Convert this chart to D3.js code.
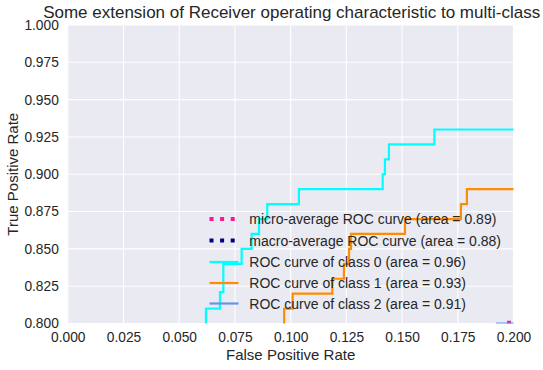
<!DOCTYPE html>
<html>
<head>
<meta charset="utf-8">
<script src="https://cdn.jsdelivr.net/npm/d3@7"></script>
<style>
  body { margin: 0; background: #fff; }
  svg { display: block; }
  text { font-family: "Liberation Sans", Arial, sans-serif; fill: #262626; }
</style>
</head>
<body>
<svg id="chart" width="543" height="370"></svg>
<script>
// ---- data ----
const xTicks = [0.000, 0.025, 0.050, 0.075, 0.100, 0.125, 0.150, 0.175, 0.200];
const yTicks = [0.800, 0.825, 0.850, 0.875, 0.900, 0.925, 0.950, 0.975, 1.000];

// class 0 (corner points of the step curve)
const fpr0 = [0.0620, 0.0620, 0.0683, 0.0683, 0.0698, 0.0698, 0.0780, 0.0780, 0.0825, 0.0825, 0.0858, 0.0858, 0.0895, 0.0895, 0.1037, 0.1037, 0.1413, 0.1413, 0.1423, 0.1423, 0.1441, 0.1441, 0.1645, 0.1645, 0.2100];
const tpr0 = [0.7900, 0.8100, 0.8100, 0.8210, 0.8210, 0.8400, 0.8400, 0.8500, 0.8500, 0.8600, 0.8600, 0.8700, 0.8700, 0.8800, 0.8800, 0.8900, 0.8900, 0.9000, 0.9000, 0.9100, 0.9100, 0.9200, 0.9200, 0.9300, 0.9300];
// class 1
const fpr1 = [0.0971, 0.0971, 0.1009, 0.1009, 0.1187, 0.1187, 0.1239, 0.1239, 0.1262, 0.1262, 0.1271, 0.1271, 0.1513, 0.1513, 0.1764, 0.1764, 0.1791, 0.1791, 0.2100];
const tpr1 = [0.7900, 0.8100, 0.8100, 0.8200, 0.8200, 0.8300, 0.8300, 0.8400, 0.8400, 0.8500, 0.8500, 0.8600, 0.8600, 0.8700, 0.8700, 0.8800, 0.8800, 0.8900, 0.8900];
// class 2
const fpr2 = [0.1926, 0.1926, 0.2100];
const tpr2 = [0.7800, 0.8000, 0.8000];
// micro-average
const fprMicro = [0.1980, 0.1980, 0.2100];
const tprMicro = [0.7850, 0.8025, 0.8025];
// macro-average (stays below 0.80 in the visible range)
const fprMacro = [0.1500, 0.2100];
const tprMacro = [0.7700, 0.7900];

const legendLabels = [
  "micro-average ROC curve (area = 0.89)",
  "macro-average ROC curve (area = 0.88)",
  "ROC curve of class 0 (area = 0.96)",
  "ROC curve of class 1 (area = 0.93)",
  "ROC curve of class 2 (area = 0.91)"
];

// ---- drawing ----
const svg = d3.select("#chart");
const L = 67.8, R = 513.5, T = 25, B = 323.5;

const x = d3.scaleLinear().domain([0, 0.2]).range([L, R]);
const y = d3.scaleLinear().domain([0.8, 1.0]).range([B, T]);

svg.append("rect").attr("x", L).attr("y", T).attr("width", R - L).attr("height", B - T).attr("fill", "#EAEAF2");

svg.append("defs").append("clipPath").attr("id", "clip")
  .append("rect").attr("x", L).attr("y", T).attr("width", R - L).attr("height", B - T);

// grid
const grid = svg.append("g");
grid.selectAll(".vx").data(xTicks).enter().append("line")
  .attr("x1", d => x(d)).attr("x2", d => x(d)).attr("y1", T).attr("y2", B)
  .attr("stroke", "#fff").attr("stroke-width", 1.1);
grid.selectAll(".hy").data(yTicks).enter().append("line")
  .attr("y1", d => y(d)).attr("y2", d => y(d)).attr("x1", L).attr("x2", R)
  .attr("stroke", "#fff").attr("stroke-width", 1.1);

// axes
const fmt = d3.format(".3f");
const xAxis = svg.append("g").attr("transform", `translate(0,${B})`)
  .call(d3.axisBottom(x).tickValues(xTicks).tickFormat(fmt).tickSize(0).tickPadding(9));
const yAxis = svg.append("g").attr("transform", `translate(${L},0)`)
  .call(d3.axisLeft(y).tickValues(yTicks).tickFormat(fmt).tickSize(0).tickPadding(9));
[xAxis, yAxis].forEach(a => {
  a.select(".domain").remove();
  a.selectAll("text").style("font-size", "13.75px").style("font-family", '"Liberation Sans", Arial, sans-serif').attr("fill", "#262626");
});

// curves
const line = d3.line().x(d => x(d[0])).y(d => y(d[1]));
const zip = (a, b) => a.map((v, i) => [v, b[i]]);
const series = [
  { fpr: fprMicro, tpr: tprMicro, color: "deeppink", width: 4, dash: "4,6.6" },
  { fpr: fprMacro, tpr: tprMacro, color: "navy", width: 4, dash: "4,6.6" },
  { fpr: fpr0, tpr: tpr0, color: "aqua", width: 2.2, dash: null },
  { fpr: fpr1, tpr: tpr1, color: "darkorange", width: 2.2, dash: null },
  { fpr: fpr2, tpr: tpr2, color: "cornflowerblue", width: 2.2, dash: null }
];
const curves = svg.append("g").attr("clip-path", "url(#clip)");
series.forEach(s => {
  curves.append("path").datum(zip(s.fpr, s.tpr))
    .attr("d", line).attr("fill", "none")
    .attr("stroke", s.color).attr("stroke-width", s.width)
    .attr("stroke-dasharray", s.dash);
});

// legend
const lg = svg.append("g");
const rowY = [219, 240.5, 262, 283, 303.5];
series.forEach((s, i) => {
  lg.append("line").attr("x1", 209.5).attr("x2", 238.5).attr("y1", rowY[i]).attr("y2", rowY[i])
    .attr("stroke", s.color).attr("stroke-width", s.width).attr("stroke-dasharray", s.dash);
  lg.append("text").attr("x", 249.3).attr("y", rowY[i]).attr("dy", "0.36em")
    .style("font-size", "14px").text(legendLabels[i]);
});

// titles
svg.append("text").attr("x", (L + R) / 2 + 1).attr("y", 17.5).attr("text-anchor", "middle")
  .style("font-size", "17px").text("Some extension of Receiver operating characteristic to multi-class");
svg.append("text").attr("x", (L + R) / 2).attr("y", 360).attr("text-anchor", "middle")
  .style("font-size", "15px").text("False Positive Rate");
svg.append("text").attr("transform", `translate(18,${(T + B) / 2}) rotate(-90)`).attr("text-anchor", "middle")
  .style("font-size", "15px").text("True Positive Rate");
</script>
</body>
</html>
